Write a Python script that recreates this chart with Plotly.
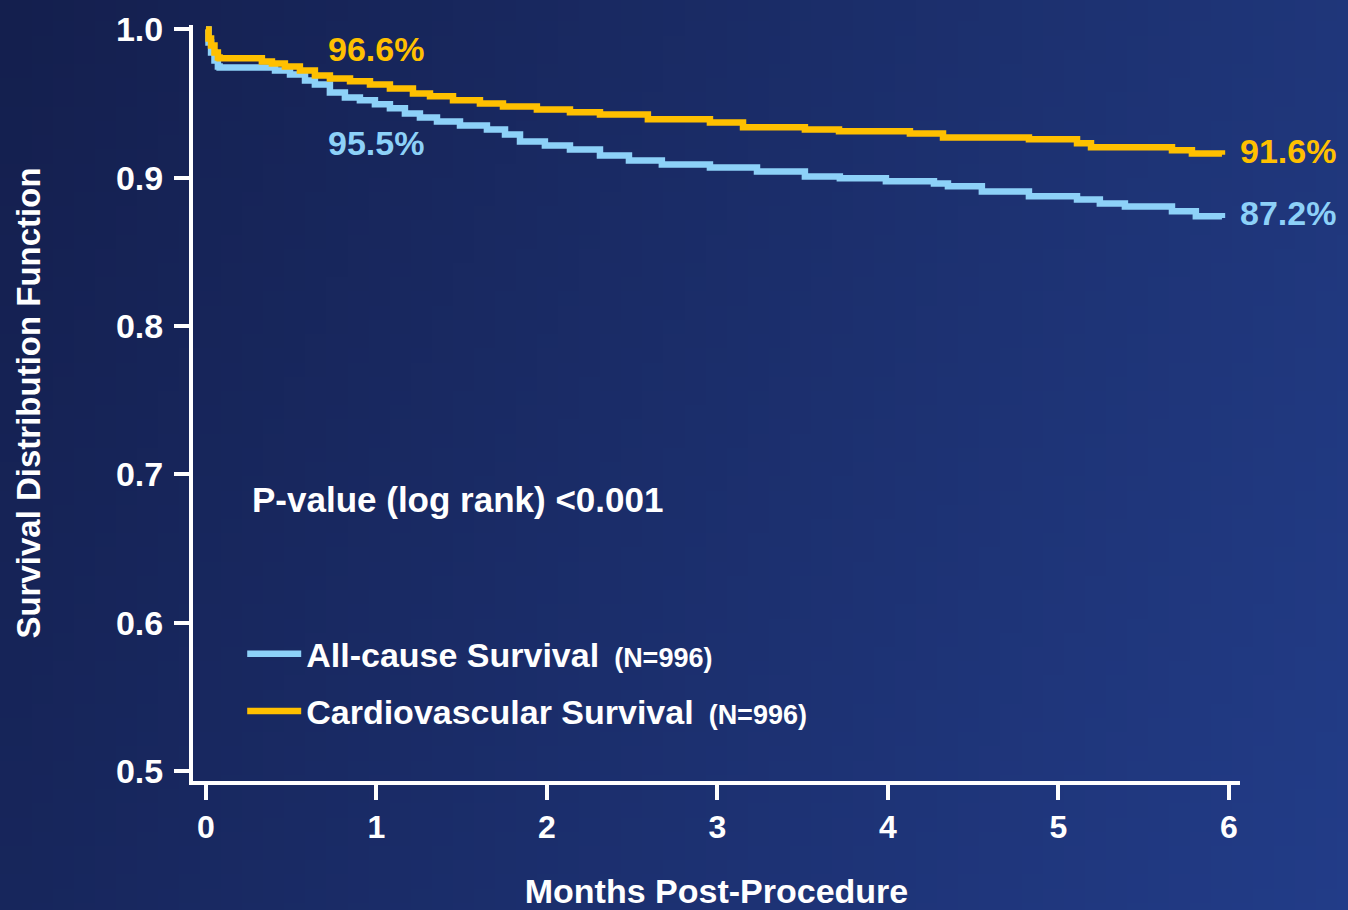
import base64
import struct
import zlib

import plotly.graph_objects as go

# ---------------- data ----------------
months_all = [0.0, 0.015, 0.03, 0.05, 0.07, 0.08, 0.405, 0.493, 0.581, 0.639, 0.727, 0.815,
              0.903, 0.991, 1.079, 1.167, 1.255, 1.355, 1.490, 1.648, 1.754, 1.842, 1.988,
              2.135, 2.311, 2.481, 2.674, 2.956, 3.232, 3.513, 3.718, 3.988, 4.270, 4.352,
              4.551, 4.827, 5.109, 5.243, 5.390, 5.666, 5.806, 5.959]
surv_all = [1.0, 0.9912, 0.9845, 0.9791, 0.9751, 0.9744, 0.9724, 0.9697, 0.9656, 0.9629,
            0.9575, 0.9542, 0.9522, 0.9495, 0.9468, 0.9434, 0.9407, 0.9380, 0.9353, 0.9326,
            0.9292, 0.9245, 0.9218, 0.9191, 0.9151, 0.9117, 0.9090, 0.9070, 0.9043, 0.9009,
            0.8996, 0.8976, 0.8962, 0.8942, 0.8908, 0.8875, 0.8854, 0.8827, 0.8807, 0.8774,
            0.8740, 0.8728]

months_cv = [0.0, 0.015, 0.03, 0.05, 0.07, 0.08, 0.328, 0.387, 0.463, 0.551, 0.639, 0.727,
             0.845, 0.962, 1.079, 1.214, 1.314, 1.449, 1.607, 1.742, 1.941, 2.135, 2.311,
             2.592, 2.956, 3.150, 3.513, 3.713, 4.129, 4.323, 4.827, 5.109, 5.191, 5.666,
             5.783, 5.959]
surv_cv = [1.0, 0.9939, 0.9892, 0.9845, 0.9811, 0.9805, 0.9784, 0.9771, 0.9751, 0.9724,
           0.9690, 0.9670, 0.9650, 0.9629, 0.9602, 0.9569, 0.9549, 0.9522, 0.9501, 0.9481,
           0.9461, 0.9441, 0.9427, 0.9394, 0.9373, 0.9340, 0.9326, 0.9313, 0.9299, 0.9272,
           0.9259, 0.9232, 0.9205, 0.9185, 0.9164, 0.9155]

series_names = ["All-cause Survival", "Cardiovascular Survival"]
series_n = ["(N=996)", "(N=996)"]
label_1m = ["95.5%", "96.6%"]
label_end = ["87.2%", "91.6%"]
x_ticks = [0, 1, 2, 3, 4, 5, 6]
y_ticks = [0.5, 0.6, 0.7, 0.8, 0.9, 1.0]

# ---------------- style ----------------
W, H = 1348, 910
M = dict(l=193, r=108, t=25, b=129)
BLUE = "#8DD1F8"
ORANGE = "#FFC000"
FONT = "Liberation Sans, Arial, Helvetica, sans-serif"


def gradient_png(w, h, tl, tr, bl, br):
    rows = []
    for j in range(h):
        fy = j / (h - 1)
        row = bytearray([0])
        for i in range(w):
            fx = i / (w - 1)
            for c in range(3):
                top = tl[c] + (tr[c] - tl[c]) * fx
                bot = bl[c] + (br[c] - bl[c]) * fx
                row.append(int(round(top + (bot - top) * fy)))
        rows.append(bytes(row))
    raw = b"".join(rows)

    def chunk(tag, data):
        return (struct.pack(">I", len(data)) + tag + data
                + struct.pack(">I", zlib.crc32(tag + data) & 0xFFFFFFFF))

    png = (b"\x89PNG\r\n\x1a\n"
           + chunk(b"IHDR", struct.pack(">IIBBBBB", w, h, 8, 2, 0, 0, 0))
           + chunk(b"IDAT", zlib.compress(raw, 9))
           + chunk(b"IEND", b""))
    return "data:image/png;base64," + base64.b64encode(png).decode()


bg = gradient_png(64, 64, (20, 31, 78), (31, 54, 122), (23, 38, 92), (34, 60, 136))

fig = go.Figure()
for xs, ys, name, n, color in [
    (months_all, surv_all, series_names[0], series_n[0], BLUE),
    (months_cv, surv_cv, series_names[1], series_n[1], ORANGE),
]:
    fig.add_trace(go.Scatter(
        x=xs, y=ys, mode="lines", line=dict(color=color, width=6.5, shape="hv"),
        name=f"{name}<span style='font-size:27px'>  {n}</span>",
        legendgroup=name, hoverinfo="x+y",
    ))

pw = W - M["l"] - M["r"]
ph = H - M["t"] - M["b"]

fig.add_layout_image(dict(
    source=bg, xref="paper", yref="paper",
    x=-M["l"] / pw, y=1 + M["t"] / ph, sizex=W / pw, sizey=H / ph,
    xanchor="left", yanchor="top", sizing="stretch", layer="below",
))

txt = dict(family=FONT, size=34, color="white", weight="bold")

# percentage labels
fig.add_annotation(x=1.0, y=0.9865, text=label_1m[1], showarrow=False,
                   font=dict(txt, color=ORANGE), xanchor="center", yanchor="middle")
fig.add_annotation(x=1.0, y=0.9236, text=label_1m[0], showarrow=False,
                   font=dict(txt, color=BLUE), xanchor="center", yanchor="middle")
fig.add_annotation(x=months_cv[-1], y=surv_cv[-1], text=label_end[1], showarrow=False,
                   font=dict(txt, color=ORANGE), xanchor="left", yanchor="middle",
                   xshift=16, yshift=4)
fig.add_annotation(x=months_all[-1], y=surv_all[-1], text=label_end[0], showarrow=False,
                   font=dict(txt, color=BLUE), xanchor="left", yanchor="middle",
                   xshift=16, yshift=5)
fig.add_annotation(x=0.26, y=0.683, text="P-value (log rank) <0.001", showarrow=False,
                   font=dict(txt, size=35), xanchor="left", yanchor="middle")

fig.update_layout(
    width=W, height=H, margin=dict(M, autoexpand=False),
    paper_bgcolor="#1a2b62", plot_bgcolor="rgba(0,0,0,0)",
    font=dict(family=FONT, color="white"),
    showlegend=True,
    legend=dict(x=0.047, y=0.206, xanchor="left", yanchor="top",
                bgcolor="rgba(0,0,0,0)", font=txt, tracegroupgap=10,
                traceorder="grouped", itemwidth=54),
    xaxis=dict(range=[-0.076, 6.065], tickvals=x_ticks, ticktext=[str(v) for v in x_ticks],
               automargin=False,
               showgrid=False, zeroline=False, showline=True, linecolor="white", linewidth=4,
               ticks="outside", ticklen=15, tickwidth=4, tickcolor="white",
               ticklabelstandoff=0,
               tickfont=dict(family=FONT, size=32, color="white", weight="bold"),
               title=dict(text="Months Post-Procedure", standoff=40,
                          font=dict(family=FONT, size=34, color="white", weight="bold"))),
    yaxis=dict(range=[0.4933, 1.003], tickvals=y_ticks, tickformat=".1f",
               automargin=False,
               showgrid=False, zeroline=False, showline=True, linecolor="white", linewidth=4,
               ticks="outside", ticklen=15, tickwidth=4, tickcolor="white",
               ticklabelstandoff=4,
               tickfont=dict(family=FONT, size=34, color="white", weight="bold"),
               title=dict(text="Survival Distribution Function", standoff=66,
                          font=dict(family=FONT, size=33, color="white", weight="bold"))),
)

fig.write_html("out.html", config={"displayModeBar": False},
               post_script="document.body.style.margin='0';document.body.style.overflow='hidden';")
